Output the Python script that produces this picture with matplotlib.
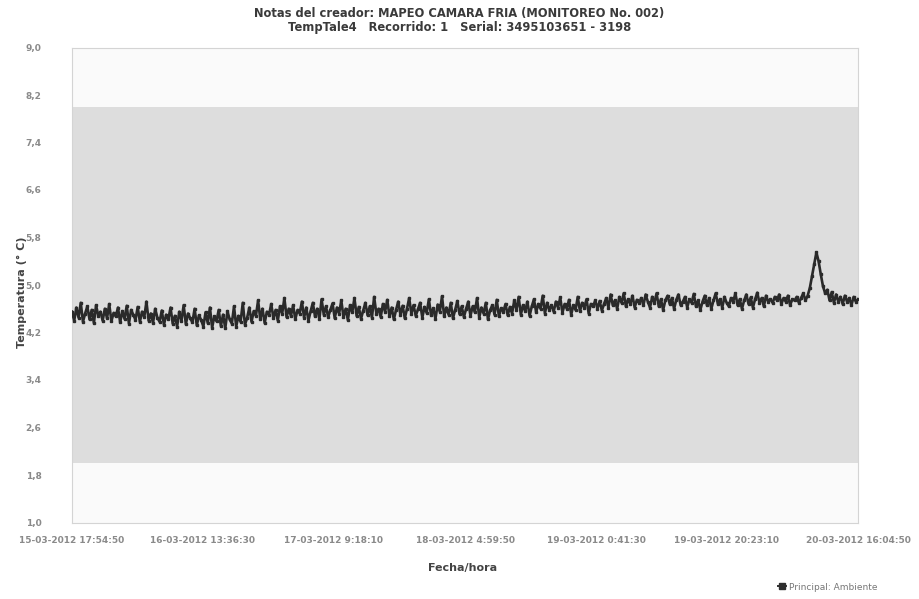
import matplotlib
matplotlib.use("Agg")
import matplotlib.pyplot as plt
import pandas as pd
from matplotlib.lines import Line2D

title_lines = ["Notas del creador: MAPEO CAMARA FRIA (MONITOREO No. 002)",
               "TempTale4   Recorrido: 1   Serial: 3495103651 - 3198"]
y_label = "Temperatura (° C)"
x_label = "Fecha/hora"
legend_label = "Principal: Ambiente"

start_time = "2012-03-15 17:54:50"
end_time = "2012-03-20 16:04:50"
x_tick_labels = ["15-03-2012 17:54:50", "16-03-2012 13:36:30", "17-03-2012 9:18:10",
                 "18-03-2012 4:59:50", "19-03-2012 0:41:30", "19-03-2012 20:23:10",
                 "20-03-2012 16:04:50"]
y_ticks = [1.0, 1.8, 2.6, 3.4, 4.2, 5.0, 5.8, 6.6, 7.4, 8.2, 9.0]
band_low, band_high = 2.0, 8.0

temps = [
    4.55, 4.40, 4.62, 4.45, 4.70, 4.38, 4.52, 4.64, 4.42, 4.58, 4.36, 4.66, 4.48, 4.55, 4.40, 4.60, 4.44, 4.68, 4.39, 4.53,
    4.47, 4.62, 4.37, 4.56, 4.43, 4.65, 4.35, 4.58, 4.50, 4.41, 4.63, 4.38, 4.55, 4.46, 4.72, 4.40, 4.52, 4.36, 4.60, 4.45,
    4.38, 4.57, 4.33, 4.50, 4.42, 4.62, 4.35, 4.48, 4.30, 4.55, 4.40, 4.66, 4.34, 4.52, 4.44, 4.37, 4.60, 4.32, 4.49, 4.41,
    4.30, 4.54, 4.36, 4.62, 4.28, 4.47, 4.39, 4.58, 4.31, 4.50, 4.27, 4.56, 4.42, 4.35, 4.64, 4.30, 4.48, 4.38, 4.70, 4.33,
    4.45, 4.62, 4.38, 4.56, 4.48, 4.74, 4.42, 4.60, 4.36, 4.55, 4.50, 4.68, 4.44, 4.58, 4.40, 4.64, 4.52, 4.78, 4.46, 4.60,
    4.48, 4.66, 4.42, 4.58, 4.52, 4.72, 4.45, 4.62, 4.40, 4.56, 4.70, 4.47, 4.60, 4.43, 4.76, 4.50, 4.64, 4.46, 4.58, 4.69,
    4.44, 4.62, 4.52, 4.74, 4.46, 4.60, 4.41, 4.66, 4.54, 4.78, 4.48, 4.63, 4.43, 4.57, 4.70, 4.49, 4.64, 4.45, 4.80, 4.52,
    4.60, 4.46, 4.68, 4.55, 4.75, 4.47, 4.62, 4.42, 4.58, 4.72, 4.50, 4.65, 4.44, 4.60, 4.78, 4.52, 4.66, 4.48, 4.59, 4.70,
    4.45, 4.63, 4.53, 4.76, 4.49, 4.61, 4.43, 4.67, 4.55, 4.81, 4.47, 4.62, 4.50, 4.70, 4.44, 4.58, 4.73, 4.51, 4.64, 4.46,
    4.60, 4.72, 4.48, 4.64, 4.54, 4.78, 4.45, 4.62, 4.52, 4.70, 4.42, 4.58, 4.66, 4.50, 4.75, 4.47, 4.61, 4.55, 4.68, 4.49,
    4.63, 4.52, 4.74, 4.58, 4.80, 4.50, 4.66, 4.56, 4.72, 4.48, 4.64, 4.76, 4.54, 4.68, 4.60, 4.82, 4.52, 4.70, 4.58, 4.66,
    4.55, 4.72, 4.62, 4.79, 4.53, 4.68, 4.60, 4.75, 4.50, 4.66, 4.58, 4.80, 4.56, 4.70, 4.62, 4.76, 4.52, 4.68, 4.64, 4.74,
    4.60, 4.73, 4.57, 4.68, 4.78, 4.62, 4.84, 4.66, 4.74, 4.60, 4.80, 4.70, 4.86, 4.64, 4.76, 4.68, 4.82, 4.62, 4.75, 4.70,
    4.78, 4.66, 4.84, 4.72, 4.62, 4.80, 4.70, 4.86, 4.64, 4.76, 4.58, 4.74, 4.82, 4.68, 4.78, 4.60, 4.75, 4.84, 4.66, 4.72,
    4.80, 4.62, 4.76, 4.70, 4.85, 4.64, 4.74, 4.58, 4.72, 4.82, 4.66, 4.78, 4.60, 4.74, 4.86, 4.68, 4.76, 4.62, 4.80, 4.70,
    4.64, 4.78, 4.72, 4.86, 4.66, 4.76, 4.60, 4.74, 4.84, 4.68, 4.79, 4.62, 4.76, 4.87, 4.70, 4.78, 4.64, 4.82, 4.72, 4.76,
    4.70, 4.80, 4.74, 4.84, 4.68, 4.78, 4.72, 4.82, 4.66, 4.76, 4.74, 4.80, 4.70, 4.78, 4.86, 4.74, 4.82, 4.95, 5.15, 5.35,
    5.55, 5.40, 5.18, 4.98, 4.86, 4.92, 4.74, 4.88, 4.70, 4.84, 4.72, 4.80, 4.68, 4.82, 4.72, 4.78, 4.66, 4.80, 4.72, 4.76,
]

times = pd.date_range(start_time, end_time, periods=len(temps))
tick_times = pd.date_range(start_time, end_time, periods=len(x_tick_labels))

fig = plt.figure(figsize=(9.19, 5.99), dpi=100)
ax = fig.add_axes([72 / 919, 1 - 522.5 / 599, (858 - 72) / 919, (522.5 - 47.5) / 599])
ax.set_facecolor("#fafafa")
ax.axhspan(band_low, band_high, color="#dddddd", zorder=0, lw=0)

ax.plot(times, temps, color="#2a2a2a", lw=1.9, marker="s", ms=1.8, zorder=3)

ax.set_xlim(times[0], times[-1])
ax.set_ylim(y_ticks[0], y_ticks[-1])
ax.set_yticks(y_ticks)
ax.set_yticklabels([f"{v:.1f}".replace(".", ",") for v in y_ticks])
ax.set_xticks(tick_times)
ax.set_xticklabels(x_tick_labels)

ax.tick_params(axis="both", length=0, labelsize=6.5, labelcolor="#8a8a8a")
ax.tick_params(axis="x", pad=10)
ax.tick_params(axis="y", pad=22)
for lab in ax.get_yticklabels() + ax.get_xticklabels():
    lab.set_fontweight("bold")

for sp in ax.spines.values():
    sp.set_color("#d4d4d4")
    sp.set_linewidth(0.8)

fig.text(0.5, 1 - 13 / 599, title_lines[0], ha="center", va="center",
         fontsize=8.3, fontweight="bold", color="#3a3a3a")
fig.text(0.5, 1 - 28 / 599, title_lines[1], ha="center", va="center",
         fontsize=8.3, fontweight="bold", color="#3a3a3a")
fig.text(22 / 919, 1 - 292 / 599, y_label, rotation=90, ha="center", va="center",
         fontsize=8, fontweight="bold", color="#444444")
fig.text(463 / 919, 1 - 568 / 599, x_label, ha="center", va="center",
         fontsize=8, fontweight="bold", color="#444444")

handle = Line2D([0], [0], color="#2e2e2e", lw=1.4, marker="s", ms=5)
fig.legend([handle], [legend_label], loc="center", bbox_to_anchor=(828 / 919, 1 - 587 / 599),
           frameon=False, fontsize=6.5, handlelength=0.8, handletextpad=0.4,
           labelcolor="#777777")

fig.savefig("out.png", dpi=100)
